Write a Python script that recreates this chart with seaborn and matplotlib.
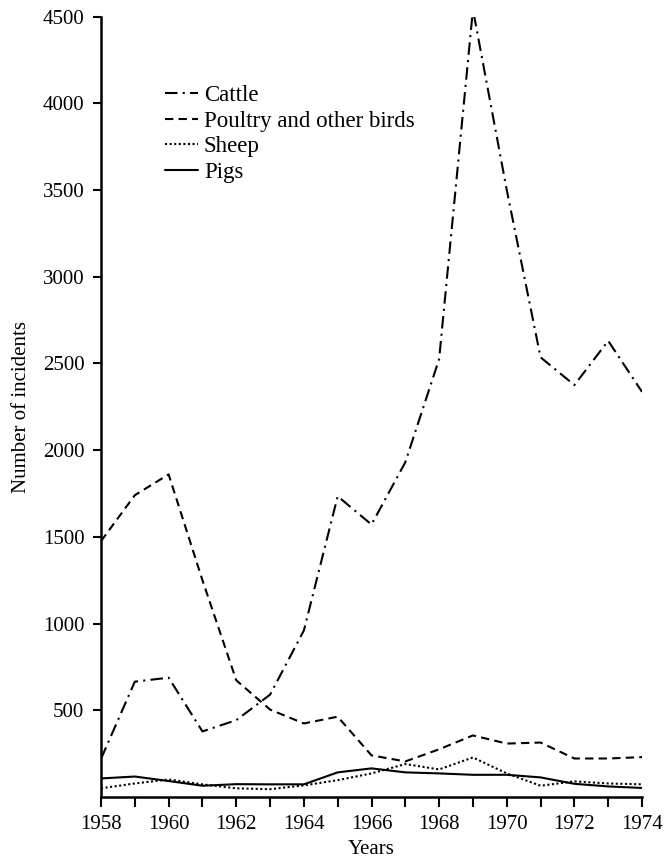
import pandas as pd
import matplotlib
matplotlib.use('Agg')
import matplotlib.pyplot as plt
import seaborn as sns

# values
years = list(range(1958, 1975))
cattle = [220, 665, 688, 378, 443, 590, 960, 1734, 1571, 1930, 2525, 4540, 3500, 2535, 2375, 2630, 2336]
poultry = [1475, 1740, 1860, 1250, 673, 504, 424, 463, 240, 205, 275, 355, 308, 314, 222, 222, 230]
sheep = [50, 78, 101, 73, 50, 45, 67, 97, 136, 190, 159, 228, 136, 65, 90, 78, 73]
pigs = [107, 118, 92, 65, 74, 73, 73, 142, 165, 142, 136, 128, 128, 113, 76, 61, 52]
labels = ['Cattle', 'Poultry and other birds', 'Sheep', 'Pigs']

df = pd.concat([
    pd.DataFrame({'year': years, 'incidents': vals, 'animal': name})
    for name, vals in zip(labels, [cattle, poultry, sheep, pigs])
], ignore_index=True)

sns.set_style('ticks')
plt.rcParams['font.family'] = ['Liberation Serif', 'DejaVu Serif']
plt.rcParams['text.color'] = 'black'
plt.rcParams['axes.labelcolor'] = 'black'

fig = plt.figure(figsize=(6.67, 8.65), dpi=100)
ax = fig.add_axes([101 / 667, 1 - 797 / 865, (642 - 101) / 667, (797 - 16.5) / 865])

dashes = {
    'Cattle': (6, 2.5, 1, 2.5),
    'Poultry and other birds': (4, 2.5),
    'Sheep': (1, 1.2),
    'Pigs': '',
}
sns.lineplot(data=df, x='year', y='incidents', hue='animal', style='animal',
             palette=['black'] * 4, dashes=dashes, linewidth=1.5, ax=ax)

ax.set_xlim(1958, 1974)
ax.set_ylim(0, 4500)
ax.set_xticks(range(1958, 1975, 2))
ax.set_xticks(range(1959, 1975, 2), minor=True)
ax.set_yticks(range(500, 4501, 500))
ax.tick_params(axis='both', which='both', direction='out', width=1.5,
               colors='black', labelcolor='black')
ax.tick_params(axis='x', which='both', length=7, pad=6, labelsize=15)
ax.tick_params(axis='y', length=6, pad=6, labelsize=15)
for s in ['top', 'right']:
    ax.spines[s].set_visible(False)
for s in ['left', 'bottom']:
    ax.spines[s].set_linewidth(1.8)
    ax.spines[s].set_color('black')

ax.set_xlabel('Years', fontsize=15, labelpad=4, color='black')
ax.set_ylabel('Number of incidents', fontsize=15, labelpad=8, color='black')

handles, labs = ax.get_legend_handles_labels()
leg = ax.legend(handles, labs, loc='upper left', bbox_to_anchor=(165 / 667, 1 - 85 / 865),
                bbox_transform=fig.transFigure, frameon=False, fontsize=16.5,
                handlelength=1.45, handletextpad=0.25, labelspacing=0.2,
                borderpad=0, borderaxespad=0)
for t in leg.get_texts():
    t.set_color('black')

fig.savefig('out.png', dpi=100)
